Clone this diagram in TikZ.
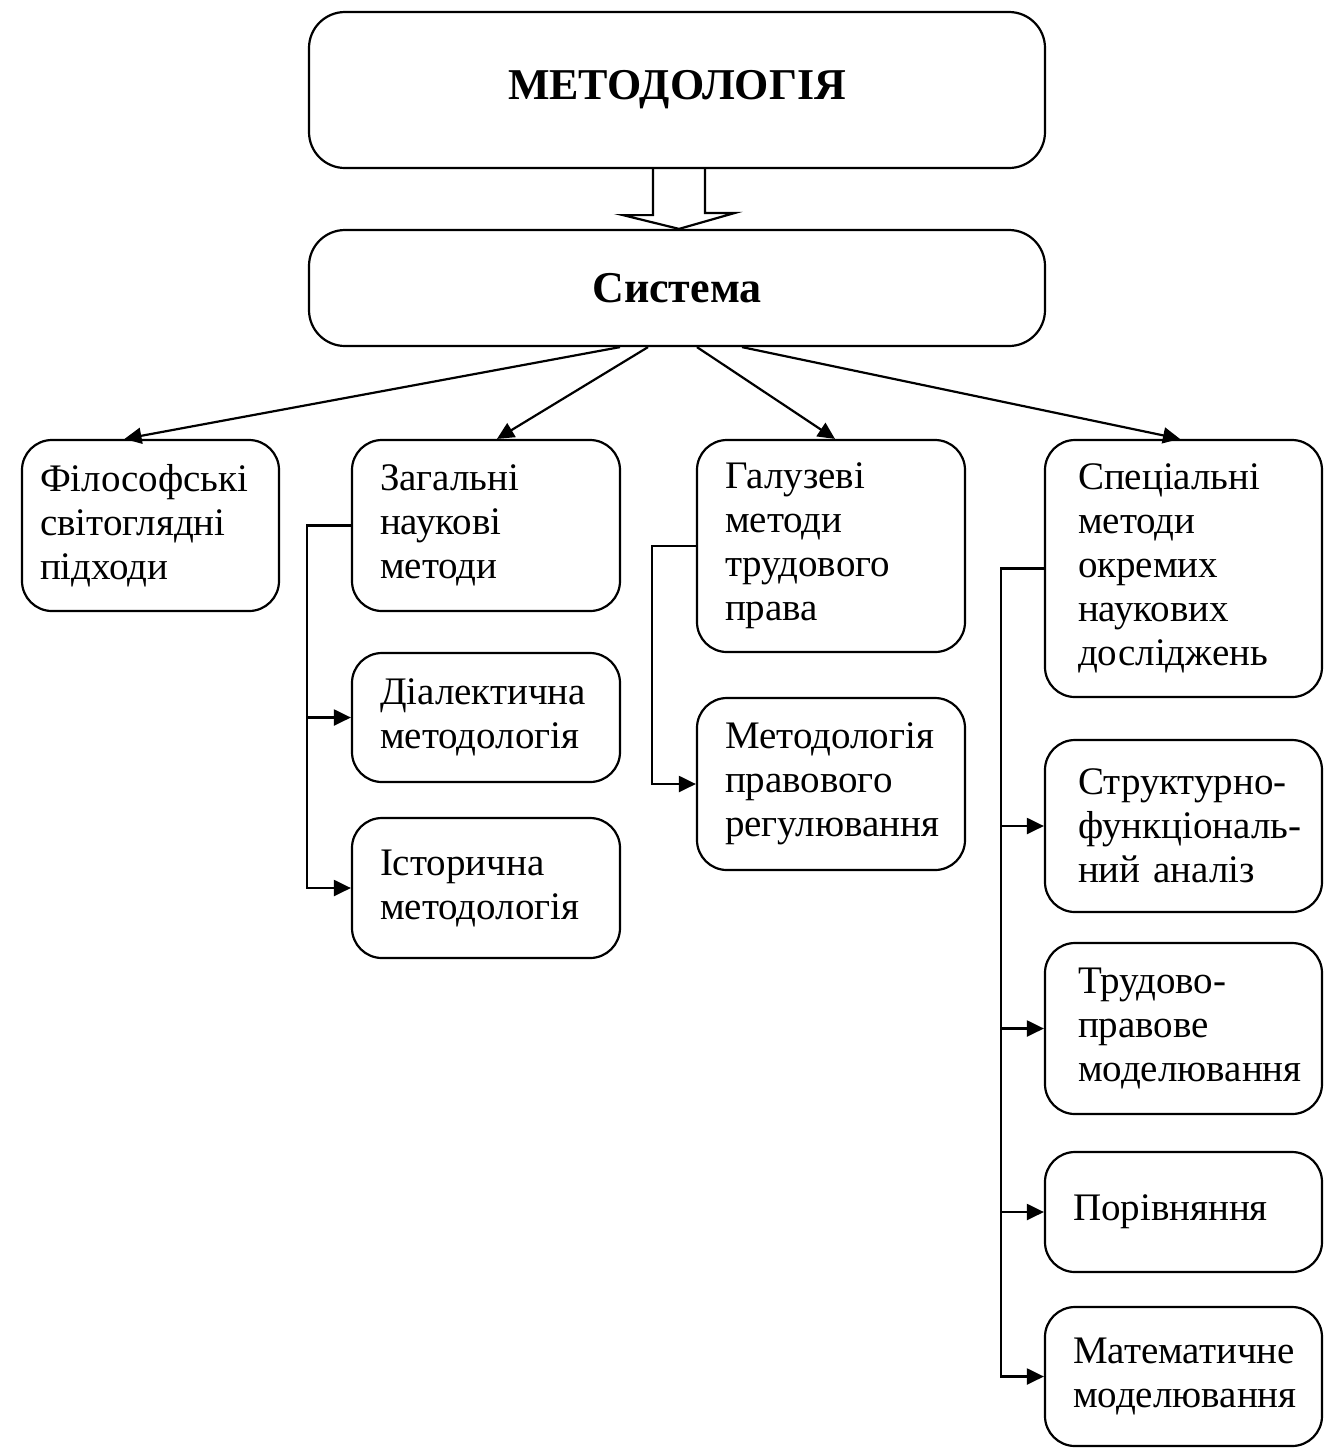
\documentclass[tikz,border=0pt]{standalone}
\usepackage{fontspec}
\setmainfont{Liberation Serif}
\usetikzlibrary{arrows.meta}
\usetikzlibrary{positioning}

\tikzset{
  box/.style={draw, line width=1.1pt, rounded corners=15pt, align=left,
    inner xsep=14pt, font=\fontsize{19.5}{22}\selectfont},
  headbox/.style={draw, line width=1.1pt, rounded corners=18pt, align=center,
    font=\fontsize{22}{26}\selectfont\bfseries},
}

\begin{document}
\begin{tikzpicture}[x=0.5pt,y=-0.5pt,line width=1.1pt,>={Triangle[length=8.5pt,width=8pt]}]
    \useasboundingbox (0,0) rectangle (1324,1448);

    \node[headbox, minimum width=368pt, minimum height=78pt] (method) at (677,90) {МЕТОДОЛОГІЯ};
    \node[headbox, minimum width=368pt, minimum height=58pt] (sys) at (677,288) {Система};

    \node[box, inner xsep=9pt, text width=110.5pt, minimum height=85.5pt] (phil) at (150.5,525.5) {Філософські\\світоглядні\\підходи};
    \node[box, text width=106pt, minimum height=85.5pt] (gen) at (486,525.5) {Загальні\\наукові\\методи};
    \node[box, text width=106pt, minimum height=106pt] (branch) at (831,546) {Галузеві\\методи\\трудового\\права};
    \node[box, inner xsep=16.5pt, text width=105.5pt, minimum height=128.5pt] (spec) at (1183.5,568.5) {Спеціальні\\методи\\окремих\\наукових\\досліджень};

    \node[box, text width=106pt, minimum height=64.5pt] (dial) at (486,717.5) {Діалектична\\методологія};
    \node[box, text width=106pt, minimum height=70pt] (hist) at (486,888) {Історична\\методологія};
    \node[box, text width=106pt, minimum height=86pt] (reg) at (831,784) {Методологія\\правового\\регулювання};

    \node[box, inner xsep=16.5pt, text width=105.5pt, minimum height=86pt] (struct) at (1183.5,826) {\mbox{Структурно-}\\\mbox{функціональ-}\\ний аналіз};
    \node[box, inner xsep=16.5pt, text width=105.5pt, minimum height=85.5pt] (trud) at (1183.5,1028.5) {\mbox{Трудово-}\\правове\\моделювання};
    \node[box, text width=110.5pt, minimum height=60pt] (comp) at (1183.5,1212) {Порівняння};
    \node[box, text width=110.5pt, minimum height=69.5pt] (math) at (1183.5,1376.5) {Математичне\\моделювання};

    % hollow arrow between the two top boxes
    \draw ([xshift=-12pt]method.south) -- ++(0,46) -- ++(-30,0) -- ([xshift=1pt]sys.north)
      -- ++(56,-16) -- ++(-30,0) -- ([xshift=14pt]method.south);

    \draw[->] ([xshift=-28.5pt]sys.south) -- ([xshift=-13pt]phil.north);
    \draw[->] ([xshift=-14.5pt]sys.south) -- ([xshift=5.5pt]gen.north);
    \draw[->] ([xshift=10pt]sys.south) -- ([xshift=2pt]branch.north);
    \draw[->] ([xshift=32.5pt]sys.south) -- ([xshift=-1.75pt]spec.north);

    \draw[->] (gen.west) -| ([xshift=-22pt]hist.west) -- (hist.west);
    \draw[->] ([xshift=-22pt]dial.west) -- (dial.west);

    \draw[->] (branch.west) -| ([xshift=-22pt]reg.west) -- (reg.west);

    \draw[->] (spec.west) -| ([xshift=-21.5pt]math.west) -- (math.west);
    \foreach \n in {struct,trud,comp}
      \draw[->] ([xshift=-21.5pt]\n.west) -- (\n.west);
  \end{tikzpicture}
\end{document}
